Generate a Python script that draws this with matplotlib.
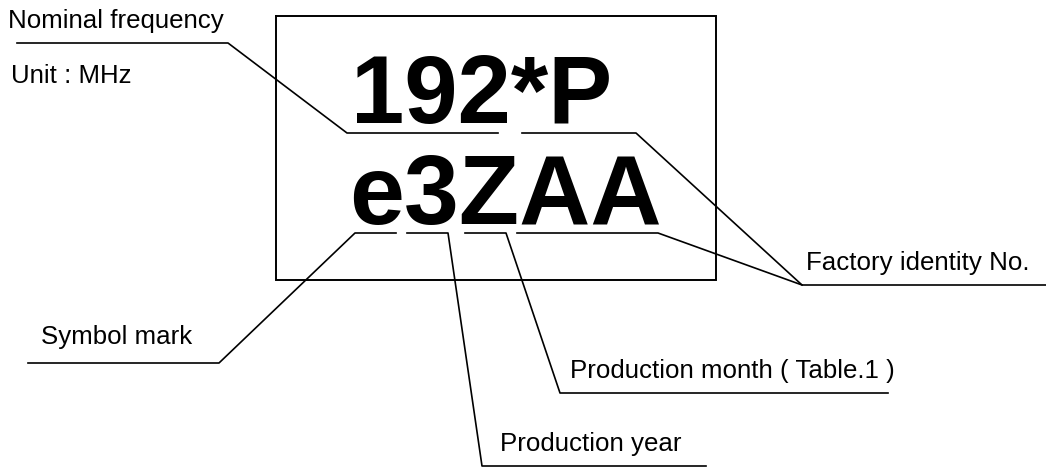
import matplotlib
matplotlib.use("Agg")
import matplotlib.pyplot as plt

plt.rcParams["font.family"] = ["Liberation Sans", "DejaVu Sans"]

# marking box (pixel coordinates, y downward)
box_x = [276, 716, 716, 276, 276]
box_y = [16, 16, 280, 280, 16]

# marking text lines: (text, x, baseline, size)
marks = [("192*P", 351, 123, 69), ("e3ZAA", 349, 224, 71)]

# leader lines: polyline x / y lists
leaders = {
    "nominal": ([17, 228, 347, 498], [43, 43, 133, 133]),
    "factory_top": ([522, 636, 802, 1046], [133, 133, 285, 285]),
    "factory_low": ([517, 658, 802], [233, 233, 285]),
    "symbol": ([396, 355, 219, 28], [233, 233, 363, 363]),
    "year": ([407, 448, 482, 706], [233, 233, 466, 466]),
    "month": ([465, 506, 560, 888], [233, 233, 393, 393]),
}

# labels: (text, x, baseline)
labels = [
    ("Nominal frequency", 8, 28),
    ("Unit : MHz", 11, 83),
    ("Factory identity No.", 806, 270),
    ("Symbol mark", 41, 344),
    ("Production month ( Table.1 )", 570, 378),
    ("Production year", 500, 451),
]

fig = plt.figure(figsize=(10.46, 4.68), dpi=100)
ax = fig.add_axes([0, 0, 1, 1])
ax.set_xlim(0, 1046)
ax.set_ylim(468, 0)
ax.axis("off")

ax.plot(box_x, box_y, color="black", linewidth=1.4, solid_joinstyle="miter")

for xs, ys in leaders.values():
    ax.plot(xs, ys, color="black", linewidth=1.2)

for txt, x, y, size in marks:
    ax.text(x, y, txt, fontsize=size, fontweight="bold", ha="left", va="baseline")

for txt, x, y in labels:
    ax.text(x, y, txt, fontsize=18.6, ha="left", va="baseline")

fig.savefig("out.png", dpi=100)
